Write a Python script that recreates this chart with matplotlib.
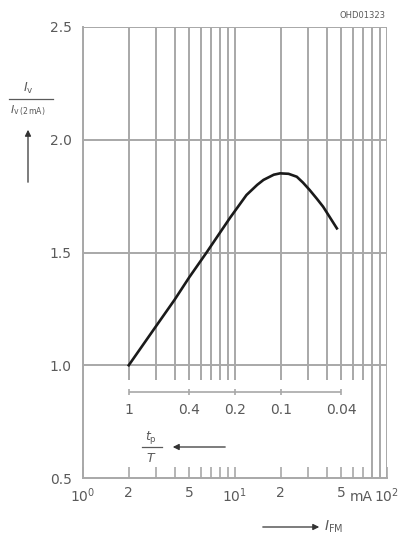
import numpy as np
import matplotlib.pyplot as plt
from matplotlib.ticker import FixedLocator, NullFormatter

# Curve: relative luminous intensity vs forward current
I_FM = [2, 3, 4, 5, 6.5, 8, 9.3, 11.9, 14, 15.4, 18, 19.8, 22.5, 25.5, 28, 31, 34.5, 38, 42, 46.8]
I_rel = [1.0, 1.17, 1.29, 1.39, 1.5, 1.59, 1.655, 1.755, 1.80, 1.822, 1.845, 1.851,
         1.849, 1.836, 1.81, 1.777, 1.739, 1.703, 1.657, 1.607]

# x ticks
x_major = [1, 2, 5, 10, 20, 50, 100]
x_major_labels = ['$10^0$', '2', '5', '$10^1$', '2', '5', '$10^2$']
y_ticks = [0.5, 1.0, 1.5, 2.0, 2.5]
y_labels = ['0.5', '1.0', '1.5', '2.0', '2.5']

# duty cycle scale tp/T shown inside the plot
duty_I = [2, 5, 10, 20, 50]
duty_labels = ['1', '0.4', '0.2', '0.1', '0.04']

grid_c = '#a8a8a8'
text_c = '#5a5a5a'

fig = plt.figure(figsize=(4.11, 5.38), dpi=100)
ax = fig.add_axes([83/411, 1 - 478/538, 304/411, 451/538])
ax.set_xscale('log')
ax.set_xlim(1, 100)
ax.set_ylim(0.5, 2.5)

# vertical grid lines
grid_x = [1, 2, 3, 4, 5, 6, 7, 8, 9, 10, 20, 30, 40, 50, 60, 70]
ax.vlines(grid_x, 0.935, 2.5, color=grid_c, lw=1.4)
ax.vlines([80, 90, 100], 0.5, 2.5, color=grid_c, lw=1.4)
# horizontal grid lines
ax.hlines([1.0, 1.5, 2.0, 2.5], 1, 100, color=grid_c, lw=1.4)

# duty-cycle scale
ax.hlines(0.881, duty_I[0], duty_I[-1], color=grid_c, lw=1.2)
ax.vlines(duty_I, 0.866, 0.896, color=grid_c, lw=1.2)
for xi, lab in zip(duty_I, duty_labels):
    ax.text(xi, 0.80, lab, ha='center', va='center', fontsize=10, color=text_c)

# the curve
ax.plot(I_FM, I_rel, color='#1a1a1a', lw=1.9, solid_joinstyle='round')

for s in ['top', 'right']:
    ax.spines[s].set_visible(False)
for s in ['left', 'bottom']:
    ax.spines[s].set_color(grid_c)
    ax.spines[s].set_linewidth(1.4)

ax.xaxis.set_major_locator(FixedLocator(x_major))
ax.set_xticklabels(x_major_labels)
ax.xaxis.set_minor_locator(FixedLocator([3, 4, 6, 7, 8, 9, 30, 40, 60, 70]))
ax.xaxis.set_minor_formatter(NullFormatter())
ax.tick_params(axis='x', which='both', direction='in', length=8, width=1.2,
               color=grid_c, labelsize=10, labelcolor=text_c, pad=6)
ax.set_yticks(y_ticks)
ax.set_yticklabels(y_labels)
ax.tick_params(axis='y', length=0, labelsize=10, labelcolor=text_c, pad=8)

# 'mA' next to the 5 on the x axis
fig.text(361/411, 1 - 497/538, 'mA', ha='center', va='center', fontsize=10, color=text_c)

# y-axis label as fraction with arrow
fig.text(28/411, 1 - 88/538, r'$I_{\rm v}$', ha='center', va='center', fontsize=9, color=text_c)
fig.add_artist(plt.Line2D([9/411, 53/411], [1 - 99/538, 1 - 99/538], color=text_c, lw=0.9))
fig.text(28/411, 1 - 111/538, r'$I_{\rm v\,(2\,mA)}$', ha='center', va='center', fontsize=8, color=text_c)
ax.annotate('', xy=(28/411, 1 - 127/538), xytext=(28/411, 1 - 185/538),
            xycoords='figure fraction', textcoords='figure fraction',
            arrowprops=dict(arrowstyle='-|>', color='#333333', lw=0.9, mutation_scale=9))

# tp/T label with arrow pointing left
fig.text(151/411, 1 - 437/538, r'$t_{\rm p}$', ha='center', va='center', fontsize=9, color=text_c)
fig.add_artist(plt.Line2D([142/411, 162/411], [1 - 447/538, 1 - 447/538], color=text_c, lw=0.9))
fig.text(151/411, 1 - 459/538, r'$T$', ha='center', va='center', fontsize=9, color=text_c)
ax.annotate('', xy=(170/411, 1 - 447/538), xytext=(228/411, 1 - 447/538),
            xycoords='figure fraction', textcoords='figure fraction',
            arrowprops=dict(arrowstyle='-|>', color='#333333', lw=0.9, mutation_scale=9))

# I_FM label with arrow pointing right
ax.annotate('', xy=(322/411, 1 - 527/538), xytext=(260/411, 1 - 527/538),
            xycoords='figure fraction', textcoords='figure fraction',
            arrowprops=dict(arrowstyle='-|>', color='#333333', lw=0.9, mutation_scale=9))
fig.text(324/411, 1 - 527/538, r'$I_{\rm FM}$', ha='left', va='center', fontsize=10, color=text_c)

# drawing number
fig.text(385/411, 1 - 15/538, 'OHD01323', ha='right', va='center', fontsize=6, color=text_c)

fig.savefig('out.png', dpi=100, facecolor='white')
